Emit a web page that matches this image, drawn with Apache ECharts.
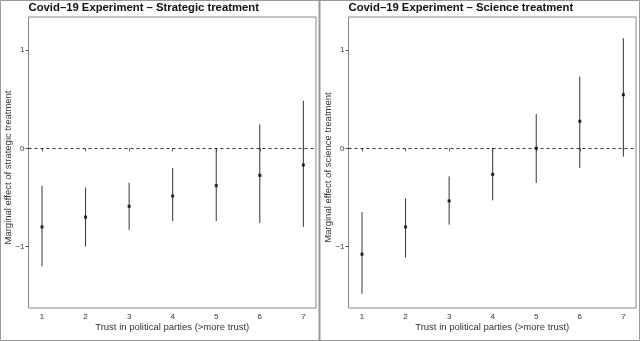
<!DOCTYPE html>
<html><head><meta charset="utf-8">
<script src="https://cdn.jsdelivr.net/npm/echarts@6/dist/echarts.min.js"></script>
<style>html,body{margin:0;padding:0;background:#fff}#c{width:640px;height:341px}</style>
</head><body><div id="c"></div>
<script>
const trustLevels = [1, 2, 3, 4, 5, 6, 7];
const xTicks = [1, 2, 3, 4, 5, 6, 7];
const yTicks = [-1, 0, 1];
const strategicEst = [-0.80, -0.70, -0.59, -0.485, -0.38, -0.275, -0.17];
const strategicLow = [-1.20, -1.00, -0.83, -0.74, -0.74, -0.76, -0.80];
const strategicHigh = [-0.38, -0.40, -0.35, -0.20, 0.00, 0.244, 0.484];
const scienceEst = [-1.078, -0.80, -0.536, -0.265, 0.0, 0.275, 0.545];
const scienceLow = [-1.48, -1.11, -0.777, -0.53, -0.353, -0.20, -0.085];
const scienceHigh = [-0.65, -0.51, -0.285, 0.0, 0.349, 0.729, 1.12];
const titles = ['Covid\u201319 Experiment \u2013 Strategic treatment', 'Covid\u201319 Experiment \u2013 Science treatment'];
const yNames = ['Marginal effect of strategic treatment', 'Marginal effect of science treatment'];
const xName = 'Trust in political parties (>more trust)';

const font = 'Liberation Sans, Arial, Helvetica, sans-serif';
const chart = echarts.init(document.getElementById('c'), null, {renderer: 'canvas'});
const grids = [
  {left: 28.5, top: 17, width: 287.5, height: 291},
  {left: 348.5, top: 17, width: 287.5, height: 291}
];
function xAxis(i) {
  return {
    gridIndex: i, type: 'value', min: 0.69, max: 7.29,
    name: xName, nameLocation: 'middle', nameGap: 14, nameMoveOverlap: false,
    nameTextStyle: {fontFamily: font, fontSize: 9.5, color: '#333'},
    axisLine: {show: false}, splitLine: {show: false},
    axisTick: {show: true, length: 3, customValues: xTicks, lineStyle: {color: '#555'}},
    axisLabel: {customValues: xTicks, fontFamily: font, fontSize: 8, color: '#333', margin: 5}
  };
}
function yAxis(i) {
  return {
    gridIndex: i, type: 'value', min: -1.625, max: 1.336,
    name: yNames[i], nameLocation: 'middle', nameGap: 15, nameMoveOverlap: false,
    nameTextStyle: {fontFamily: font, fontSize: 9.5, color: '#333', padding: [0, 10, 0, 0]},
    axisLine: {show: false}, splitLine: {show: false},
    axisTick: {show: true, length: 3, customValues: yTicks, lineStyle: {color: '#555'}},
    axisLabel: {customValues: yTicks, fontFamily: font, fontSize: 8, color: '#333', margin: 4,
      formatter: v => v < 0 ? '\u2212' + Math.abs(v) : String(v)}
  };
}
function bars(i, low, high) {
  return {
    type: 'custom', xAxisIndex: i, yAxisIndex: i,
    data: trustLevels.map((x, k) => [x, low[k], high[k]]),
    renderItem: (params, api) => {
      const a = api.coord([api.value(0), api.value(1)]);
      const b = api.coord([api.value(0), api.value(2)]);
      return {type: 'line', shape: {x1: a[0], y1: a[1], x2: b[0], y2: b[1]},
        style: {stroke: '#333', lineWidth: 1}};
    },
    silent: true
  };
}
function points(i, est) {
  return {
    type: 'scatter', xAxisIndex: i, yAxisIndex: i,
    data: trustLevels.map((x, k) => [x, est[k]]),
    symbol: 'rect', symbolSize: 3, itemStyle: {color: '#000'},
    markLine: {silent: true, symbol: 'none', label: {show: false},
      lineStyle: {color: '#000', type: [3, 3], width: 0.8}, data: [{yAxis: 0}]}
  };
}
chart.setOption({
  animation: false,
  backgroundColor: '#fff',
  title: titles.map((t, i) => ({text: t, left: grids[i].left, top: 2, padding: 0,
    textStyle: {fontFamily: font, fontSize: 11.3, fontWeight: 'bold', color: '#111'}})),
  grid: grids.map(g => Object.assign({show: true, borderColor: '#888', borderWidth: 1}, g)),
  xAxis: [xAxis(0), xAxis(1)],
  yAxis: [yAxis(0), yAxis(1)],
  series: [bars(0, strategicLow, strategicHigh), points(0, strategicEst),
           bars(1, scienceLow, scienceHigh), points(1, scienceEst)],
  graphic: [
    {type: 'rect', shape: {x: 0.5, y: 0.5, width: 639, height: 340}, style: {fill: 'none', stroke: '#999', lineWidth: 1}, silent: true},
    {type: 'line', shape: {x1: 319.5, y1: 0, x2: 319.5, y2: 341}, style: {stroke: '#999', lineWidth: 2}, silent: true}
  ]
});
</script></body></html>
